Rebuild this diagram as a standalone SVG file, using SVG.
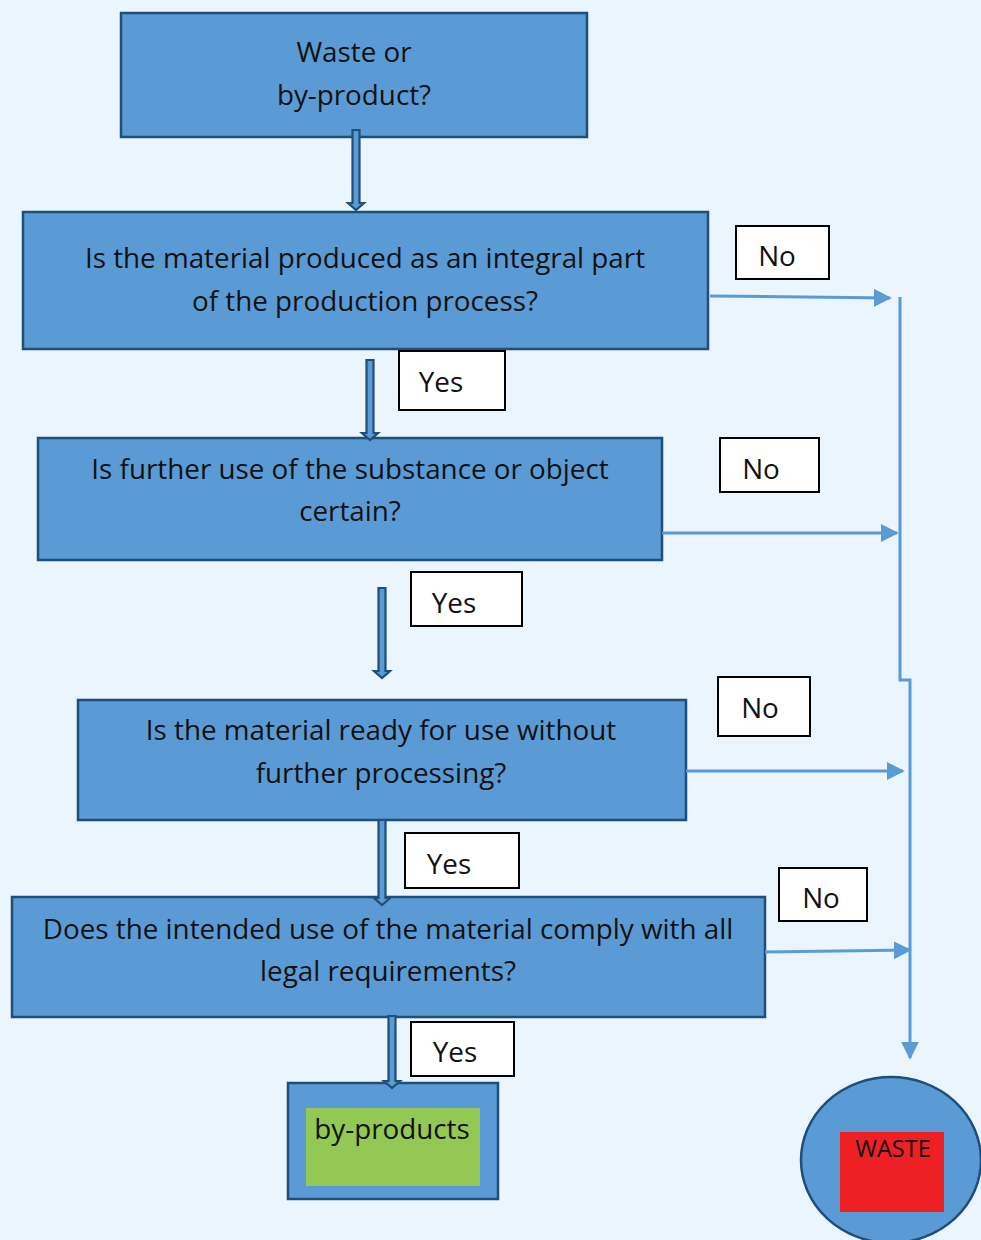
<svg xmlns="http://www.w3.org/2000/svg" width="981" height="1240" viewBox="0 0 981 1240">
<defs>
<style>
.box{fill:#5b9bd5;stroke:#1f4e79;stroke-width:2.5}
.lbl{fill:#ffffff;stroke:#000000;stroke-width:2}
.t{font-family:"Open Sans","Liberation Sans",sans-serif;font-size:27.8px;fill:#111;text-anchor:middle}
.c{fill:none;stroke:#5b9bd5;stroke-width:3}
.down{fill:#5b9bd5;stroke:#1f4e79;stroke-width:2.2}
</style>
<marker id="ah" viewBox="0 0 10 10" refX="9" refY="5" markerWidth="6" markerHeight="6" markerUnits="strokeWidth" orient="auto">
<path d="M0,0 L10,5 L0,10 z" fill="#5b9bd5"/>
</marker>
</defs>
<rect width="981" height="1240" fill="#eaf5fd"/>
<g id="n1"><rect class="box" x="121" y="13" width="466" height="124"/>
<text class="t" x="354" y="62">Waste or</text><text class="t" x="354" y="105">by-product?</text></g>
<g id="n2"><rect class="box" x="23" y="212" width="685" height="137"/>
<text class="t" x="365" y="268">Is the material produced as an integral part</text><text class="t" x="365" y="311">of the production process?</text></g>
<g id="n3"><rect class="box" x="38" y="438" width="624" height="122"/>
<text class="t" x="350" y="479">Is further use of the substance or object</text><text class="t" x="350" y="521">certain?</text></g>
<g id="n4"><rect class="box" x="78" y="700" width="608" height="120"/>
<text class="t" x="381" y="740">Is the material ready for use without</text><text class="t" x="381" y="783">further processing?</text></g>
<g id="n5"><rect class="box" x="12" y="897" width="753" height="120"/>
<text class="t" x="388" y="939">Does the intended use of the material comply with all</text><text class="t" x="388" y="981">legal requirements?</text></g>
<g id="n6"><rect class="box" x="288" y="1083" width="210" height="116"/>
<rect x="306" y="1108" width="174" height="78" fill="#92c853"/>
<text class="t" x="392" y="1139">by-products</text></g>
<g id="n7"><ellipse cx="891" cy="1160" rx="90" ry="83" fill="#5b9bd5" stroke="#1f4e79" stroke-width="2.5"/>
<rect x="840" y="1132" width="104" height="80" fill="#ee2024"/>
<text class="t" x="893" y="1157" style="font-size:23.5px">WASTE</text></g>
<g id="connectors">
<path class="down" d="M352.5,130 h7 v73 h4.5 l-8,7 l-8,-7 h4.5 z"/>
<path class="down" d="M366.5,360 h7 v73 h4.5 l-8,7 l-8,-7 h4.5 z"/>
<path class="down" d="M378.5,588 h7 v83 h4.5 l-8,7 l-8,-7 h4.5 z"/>
<path class="down" d="M378.5,820 h7 v78 h4.5 l-8,7 l-8,-7 h4.5 z"/>
<path class="down" d="M388.5,1016 h7 v65 h4.5 l-8,7 l-8,-7 h4.5 z"/>
<path class="c" marker-end="url(#ah)" d="M710,296 L890,298"/>
<path class="c" marker-end="url(#ah)" d="M662,533 L897,533"/>
<path class="c" marker-end="url(#ah)" d="M686,771 L903,771"/>
<path class="c" marker-end="url(#ah)" d="M765,952 L910,950"/>
<path class="c" marker-end="url(#ah)" d="M900,297 V680 H910 V1058"/>
</g>
<g id="labels">
<g id="l1"><rect class="lbl" x="736" y="226" width="93" height="53"/><text class="t" x="777" y="266">No</text></g>
<g id="l2"><rect class="lbl" x="399" y="351" width="106" height="59"/><text class="t" x="441" y="392">Yes</text></g>
<g id="l3"><rect class="lbl" x="720" y="438" width="99" height="54"/><text class="t" x="761" y="479">No</text></g>
<g id="l4"><rect class="lbl" x="411" y="572" width="111" height="54"/><text class="t" x="454" y="613">Yes</text></g>
<g id="l5"><rect class="lbl" x="718" y="677" width="92" height="59"/><text class="t" x="760" y="718">No</text></g>
<g id="l6"><rect class="lbl" x="405" y="833" width="114" height="55"/><text class="t" x="449" y="874">Yes</text></g>
<g id="l7"><rect class="lbl" x="779" y="868" width="88" height="53"/><text class="t" x="821" y="908">No</text></g>
<g id="l8"><rect class="lbl" x="411" y="1022" width="103" height="54"/><text class="t" x="455" y="1062">Yes</text></g>
</g>
</svg>
